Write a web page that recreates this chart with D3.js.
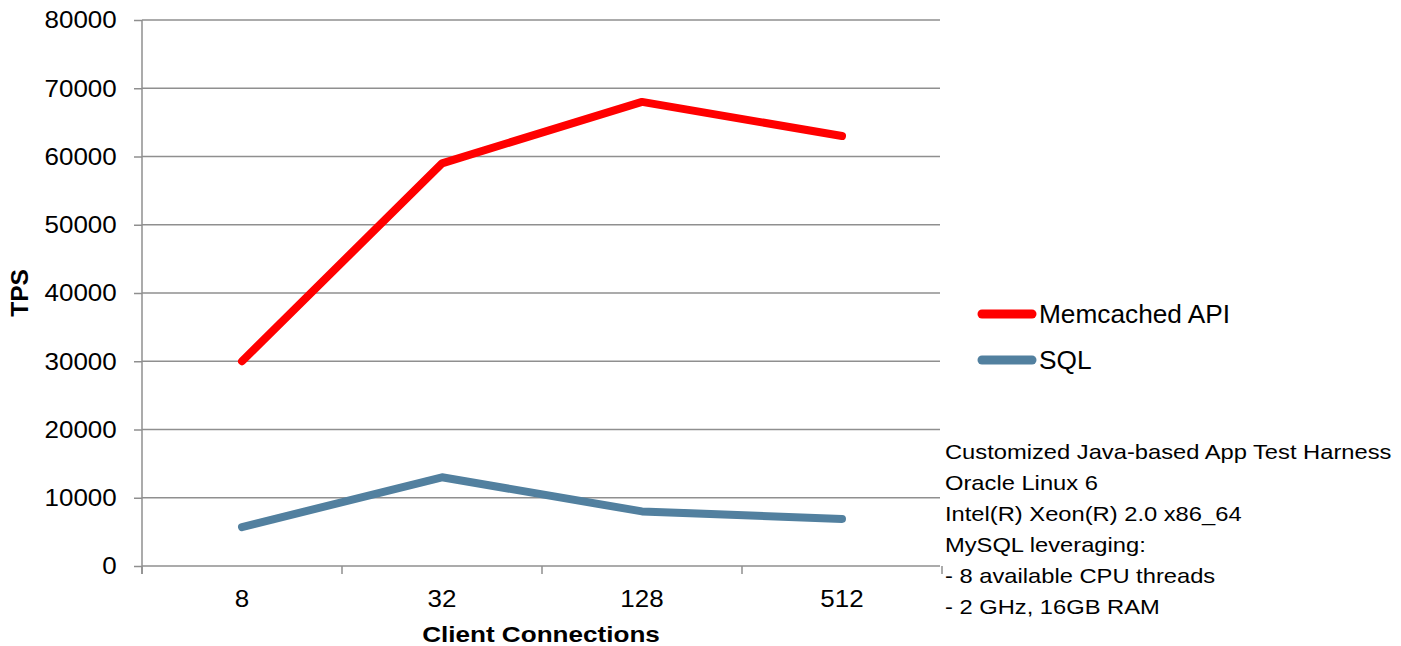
<!DOCTYPE html>
<html>
<head>
<meta charset="utf-8">
<script src="https://cdn.jsdelivr.net/npm/d3@7"></script>
<style>
  html, body { margin: 0; padding: 0; background: #fff; }
  svg { display: block; font-family: "Liberation Sans", Arial, sans-serif; }
</style>
</head>
<body>
<svg id="chart" width="1401" height="646"></svg>
<script>
const categories = ["8", "32", "128", "512"];
const memcachedValues = [30000, 59000, 68000, 63000];
const sqlValues = [5700, 13000, 8000, 6900];
const yTickValues = [0, 10000, 20000, 30000, 40000, 50000, 60000, 70000, 80000];
const seriesNames = ["Memcached API", "SQL"];
const noteLines = [
  "Customized Java-based App Test Harness",
  "Oracle Linux 6",
  "Intel(R) Xeon(R) 2.0 x86_64",
  "MySQL leveraging:",
  "- 8 available CPU threads",
  "- 2 GHz, 16GB RAM"
];
const xTitle = "Client Connections";
const yTitle = "TPS";

const svg = d3.select("#chart");
const plotLeft = 142, plotRight = 942, plotTop = 20, plotBottom = 566;
const gridColor = "#8f8f8f";
const colors = ["#ff0000", "#52809f"];

const x = d3.scaleBand().domain(categories).range([plotLeft, plotRight]).paddingInner(0).paddingOuter(0);
const y = d3.scaleLinear().domain([0, 80000]).range([plotBottom, plotTop]);

// gridlines
svg.append("g").selectAll("line").data(yTickValues).join("line")
  .attr("x1", plotLeft).attr("x2", 940)
  .attr("y1", d => y(d)).attr("y2", d => y(d))
  .attr("stroke", gridColor).attr("stroke-width", 1.5);

// y axis
const yAxis = svg.append("g").attr("transform", `translate(${plotLeft},0)`)
  .call(d3.axisLeft(y).tickValues(yTickValues).tickSize(8).tickPadding(14).tickFormat(d3.format("d")));
yAxis.select(".domain").remove();
yAxis.selectAll(".tick line").attr("stroke", gridColor).attr("stroke-width", 1.5);
yAxis.selectAll(".tick text")
  .attr("font-size", 24.5).attr("fill", "#000")
  .attr("font-family", "Liberation Sans, Arial, sans-serif")
  .attr("transform", "translate(-2,0) scale(1.06,1)");

// vertical axis line
svg.append("line").attr("x1", plotLeft).attr("x2", plotLeft).attr("y1", plotTop).attr("y2", plotBottom + 8)
  .attr("stroke", gridColor).attr("stroke-width", 1.5);

// x axis ticks at band boundaries
const boundaries = categories.map(c => x(c)).concat([x(categories[categories.length - 1]) + x.bandwidth()]);
svg.append("g").selectAll("line").data(boundaries).join("line")
  .attr("x1", d => d).attr("x2", d => d)
  .attr("y1", plotBottom).attr("y2", plotBottom + 8)
  .attr("stroke", gridColor).attr("stroke-width", 1.5);

// x labels
const xAxis = svg.append("g").attr("transform", `translate(0,${plotBottom})`)
  .call(d3.axisBottom(x).tickSize(0));
xAxis.select(".domain").remove();
xAxis.selectAll(".tick text")
  .attr("y", 41).attr("dy", 0)
  .attr("font-size", 24.5).attr("fill", "#000")
  .attr("font-family", "Liberation Sans, Arial, sans-serif")
  .attr("transform", "scale(1.06,1)");

// lines
const line = d3.line().x((d, i) => x(categories[i]) + x.bandwidth() / 2).y(d => y(d));
[memcachedValues, sqlValues].forEach((vals, k) => {
  svg.append("path").datum(vals)
    .attr("d", line)
    .attr("fill", "none").attr("stroke", colors[k]).attr("stroke-width", 8)
    .attr("stroke-linecap", "round").attr("stroke-linejoin", "round");
});

// legend
const legendY = [314, 360];
seriesNames.forEach((name, k) => {
  svg.append("line").attr("x1", 982).attr("x2", 1032)
    .attr("y1", legendY[k]).attr("y2", legendY[k])
    .attr("stroke", colors[k]).attr("stroke-width", 9).attr("stroke-linecap", "round");
  svg.append("text").attr("transform", `translate(1039,${legendY[k] + 9}) scale(1.05,1)`)
    .attr("font-size", 25).attr("fill", "#000").text(name);
});

// notes
noteLines.forEach((t, i) => {
  svg.append("text").attr("transform", `translate(945,${459 + i * 31}) scale(1.13,1)`)
    .attr("font-size", 21).attr("fill", "#000").text(t);
});

// axis titles
svg.append("text").attr("transform", `translate(541,642) scale(1.16,1)`)
  .attr("text-anchor", "middle").attr("font-size", 22.5).attr("font-weight", "bold")
  .attr("fill", "#000").text(xTitle);
svg.append("text").attr("transform", `translate(28,293) rotate(-90)`)
  .attr("text-anchor", "middle").attr("font-size", 24.5).attr("font-weight", "bold")
  .attr("fill", "#000").text(yTitle);
</script>
</body>
</html>
